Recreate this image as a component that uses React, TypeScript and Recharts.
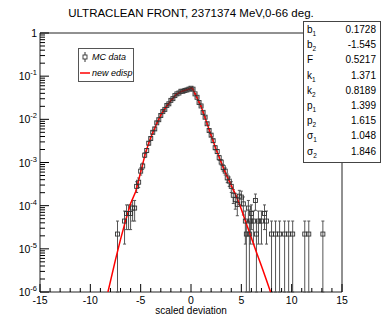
import React from 'react';
import { ComposedChart, Scatter, Line, XAxis, YAxis, ErrorBar, ReferenceArea } from 'recharts';

const title = 'ULTRACLEAN FRONT, 2371374 MeV,0-66 deg.';
const xAxisTitle = 'scaled deviation';

// MC data (bin centre, content); single entry = 2.2e-5
const mcX = [
  -7.3, -6.6, -6.4, -6.2, -6.0, -5.8, -5.6,
  -5.4, -5.2, -5.0, -4.8, -4.6, -4.4, -4.2, -4.0, -3.8, -3.6, -3.4, -3.2, -3.0, -2.8, -2.6, -2.4, -2.2, -2.0,
  -1.8, -1.6, -1.4, -1.2, -1.0, -0.8, -0.6, -0.4, -0.2, 0.0, 0.2, 0.4, 0.6, 0.8, 1.0, 1.2, 1.4, 1.6, 1.8, 2.0,
  2.2, 2.4, 2.6, 2.8, 3.0, 3.2, 3.4, 3.6, 3.8, 4.0, 4.2, 4.4, 4.6, 4.8, 5.0,
  5.2, 5.4, 5.5, 5.7, 5.8, 5.9, 6.0, 6.2, 6.4, 6.5, 6.7, 7.0, 7.3, 7.5,
  8.0, 8.4, 8.8, 9.3, 9.7, 10.1, 11.3, 11.7, 13.1,
];
const mcY = [
  2.2e-5, 4.4e-5, 6.6e-5, 6.6e-5, 6.6e-5, 8.8e-5, 8.8e-5,
  2.8e-4, 3.5e-4, 6.3e-4, 8.3e-4, 1.48e-3, 1.9e-3, 2.8e-3, 3.6e-3, 5.0e-3, 6.0e-3, 8.3e-3, 9.8e-3, 1.23e-2, 1.51e-2, 1.7e-2, 2.09e-2, 2.29e-2, 2.75e-2,
  3.02e-2, 3.55e-2, 3.89e-2, 4.07e-2, 4.47e-2, 4.47e-2, 4.68e-2, 4.79e-2, 5.01e-2, 5.25e-2, 5.0e-2, 3.89e-2, 3.24e-2, 2.45e-2, 2.04e-2, 1.45e-2, 1.12e-2, 7.9e-3, 5.5e-3, 4.3e-3,
  3.2e-3, 2.2e-3, 1.8e-3, 1.29e-3, 1.02e-3, 7.6e-4, 6.3e-4, 4.4e-4, 3.7e-4, 2.8e-4, 1.74e-4, 1.38e-4, 1.07e-4, 1.66e-4, 1.58e-4,
  1.1e-4, 4.4e-5, 2.2e-5, 8.8e-5, 2.2e-5, 4.4e-5, 6.6e-5, 4.4e-5, 1.32e-4, 2.2e-5, 4.4e-5, 4.4e-5, 6.6e-5, 4.4e-5,
  2.2e-5, 2.2e-5, 2.2e-5, 2.2e-5, 2.2e-5, 2.2e-5, 2.2e-5, 2.2e-5, 2.2e-5,
];
const unitContent = 2.2e-5;

// fitted "new edisp" curve
const fitX = [-8.25, -7.5, -7.0, -6.5, -6.0, -5.5, -5.0, -4.5, -4.0, -3.5, -3.0, -2.5, -2.0, -1.5, -1.0, -0.5, 0.0, 0.1,
  0.5, 1.0, 1.5, 2.0, 2.5, 3.0, 3.5, 4.0, 4.5, 5.0, 5.5, 6.0, 6.5, 7.0, 7.5, 7.9];
const fitY = [1e-6, 5.6e-6, 1.66e-5, 4.5e-5, 1.12e-4, 2.1e-4, 6.0e-4, 1.74e-3, 3.8e-3, 7.1e-3, 1.26e-2, 1.9e-2, 2.69e-2, 3.72e-2, 4.37e-2, 4.79e-2, 5.25e-2, 5.37e-2,
  3.55e-2, 2.0e-2, 9.3e-3, 4.2e-3, 2.0e-3, 1.0e-3, 5.2e-4, 2.95e-4, 1.66e-4, 8.3e-5, 3.8e-5, 1.78e-5, 8.3e-6, 4.0e-6, 1.86e-6, 1e-6];

const xTickLabels = [-15, -10, -5, 0, 5, 10, 15];
const yDecades = [-6, -5, -4, -3, -2, -1, 0];

const statNames = ['b_1', 'b_2', 'F', 'k_1', 'k_2', 'p_1', 'p_2', 'σ_1', 'σ_2'];
const statValues = ['0.1728', '-1.545', '0.5217', '1.371', '0.8189', '1.399', '1.615', '1.048', '1.846'];

const W = 382;
const H = 322;
const PLOT_LEFT = 40;
const PLOT_TOP = 33;
const PLOT_RIGHT = 342;
const PLOT_BOTTOM = 292;
const FONT = '"Liberation Sans", Arial, Helvetica, sans-serif';

const mcData = mcX.map((x, i) => {
  const y = mcY[i];
  const e = Math.sqrt(y * unitContent);
  return { x, y, err: [Math.min(e, y - 1e-6), e] };
});
const fitData = fitX.map((x, i) => ({ x, y: fitY[i] }));

const xTicks: number[] = [];
for (let v = -15; v <= 15; v++) xTicks.push(v);
const yTicks: number[] = [];
yDecades.forEach((d) => {
  yTicks.push(Math.pow(10, d));
  if (d < 0) [2, 3, 4, 5, 6, 7, 8, 9].forEach((k) => yTicks.push(k * Math.pow(10, d)));
});

const XTick = (props: any) => {
  const { x, payload } = props;
  const v = payload.value;
  const major = xTickLabels.includes(v);
  return (
    <g>
      <line x1={x} x2={x} y1={PLOT_BOTTOM} y2={PLOT_BOTTOM - (major ? 8 : 4)} stroke="#000" strokeWidth={1} />
      {major && (
        <text x={x} y={PLOT_BOTTOM + 12} textAnchor="middle" fontSize={10.5} fontFamily={FONT} fill="#000">
          {v}
        </text>
      )}
    </g>
  );
};

const YTick = (props: any) => {
  const { y, payload } = props;
  const v = payload.value;
  const lg = Math.log10(v);
  const major = Math.abs(lg - Math.round(lg)) < 1e-6;
  const exp = Math.round(lg);
  return (
    <g>
      <line x1={PLOT_LEFT} x2={PLOT_LEFT + (major ? 9 : 5)} y1={y} y2={y} stroke="#000" strokeWidth={1} />
      {major && (
        <text x={37} y={y + 4} textAnchor="end" fontSize={10.5} fontFamily={FONT} fill="#000">
          {exp === 0 ? (
            '1'
          ) : (
            <>
              <tspan>10</tspan>
              <tspan dy={-5} fontSize={7.5}>{exp}</tspan>
            </>
          )}
        </text>
      )}
    </g>
  );
};

const Square = (props: any) => {
  const { cx, cy } = props;
  if (cx == null || cy == null) return null;
  return <rect x={cx - 2} y={cy - 2} width={4} height={4} fill="none" stroke="#333" strokeWidth={0.9} />;
};

const Sub = ({ label }: { label: string }) => {
  const [base, sub] = label.split('_');
  return (
    <>
      <tspan>{base}</tspan>
      {sub && <tspan dy={3} fontSize={6.5}>{sub}</tspan>}
    </>
  );
};

const Overlay = () => (
  <svg width={W} height={H} style={{ position: 'absolute', left: 0, top: 0, pointerEvents: 'none' }}>
    <text x={191} y={17} textAnchor="middle" fontSize={11.5} fontFamily={FONT} fill="#000">
      {title}
    </text>
    <text x={191} y={314} textAnchor="middle" fontSize={10} fontFamily={FONT} fill="#000">
      {xAxisTitle}
    </text>

    {/* legend */}
    <rect x={78.5} y={48.5} width={55} height={33} fill="#fff" stroke="#555" strokeWidth={1} />
    <line x1={85} x2={85} y1={52} y2={62} stroke="#333" strokeWidth={1} />
    <rect x={83} y={55} width={4} height={4} fill="#fff" stroke="#333" strokeWidth={0.9} />
    <text x={92} y={60} fontSize={9} fontStyle="italic" fontFamily={FONT} fill="#000">MC data</text>
    <line x1={80} x2={90} y1={73} y2={73} stroke="#ff0000" strokeWidth={1.5} />
    <text x={92} y={76} fontSize={9} fontStyle="italic" fontFamily={FONT} fill="#000">new edisp</text>

    {/* fit parameters box */}
    <rect x={303.5} y={21.5} width={77} height={141} fill="#fff" stroke="#444" strokeWidth={1} />
    {statNames.map((n, i) => (
      <g key={n}>
        <text x={307} y={33 + i * 15.2} fontSize={10} fontFamily={FONT} fill="#000">
          <Sub label={n} />
        </text>
        <text x={376} y={33 + i * 15.2} textAnchor="end" fontSize={10} fontFamily={FONT} fill="#000">
          {statValues[i]}
        </text>
      </g>
    ))}
  </svg>
);

export default function App() {
  return (
    <div style={{ position: 'fixed', left: 0, top: 0, width: W, height: H, background: '#fff' }}>
      <ComposedChart
        width={W}
        height={H}
        margin={{ top: PLOT_TOP, right: W - PLOT_RIGHT, bottom: 0, left: 0 }}
      >
        <XAxis
          type="number"
          dataKey="x"
          domain={[-15, 15]}
          ticks={xTicks}
          interval={0}
          tick={<XTick />}
          tickLine={false}
          axisLine={false}
          height={H - PLOT_BOTTOM}
          allowDataOverflow
        />
        <YAxis
          type="number"
          dataKey="y"
          scale="log"
          domain={[1e-6, 1]}
          ticks={yTicks}
          interval={0}
          tick={<YTick />}
          tickLine={false}
          axisLine={false}
          width={PLOT_LEFT}
          allowDataOverflow
        />
        <ReferenceArea x1={-15} x2={15} y1={1e-6} y2={1} fill="none" stroke="#222" strokeWidth={1} />
        <Scatter data={mcData} shape={<Square />} isAnimationActive={false}>
          <ErrorBar dataKey="err" direction="y" width={1.5} stroke="#555" strokeWidth={1} />
        </Scatter>
        <Line
          data={fitData}
          dataKey="y"
          type="linear"
          stroke="#ff0000"
          strokeWidth={1.5}
          dot={false}
          isAnimationActive={false}
        />
      </ComposedChart>
      <Overlay />
    </div>
  );
}
